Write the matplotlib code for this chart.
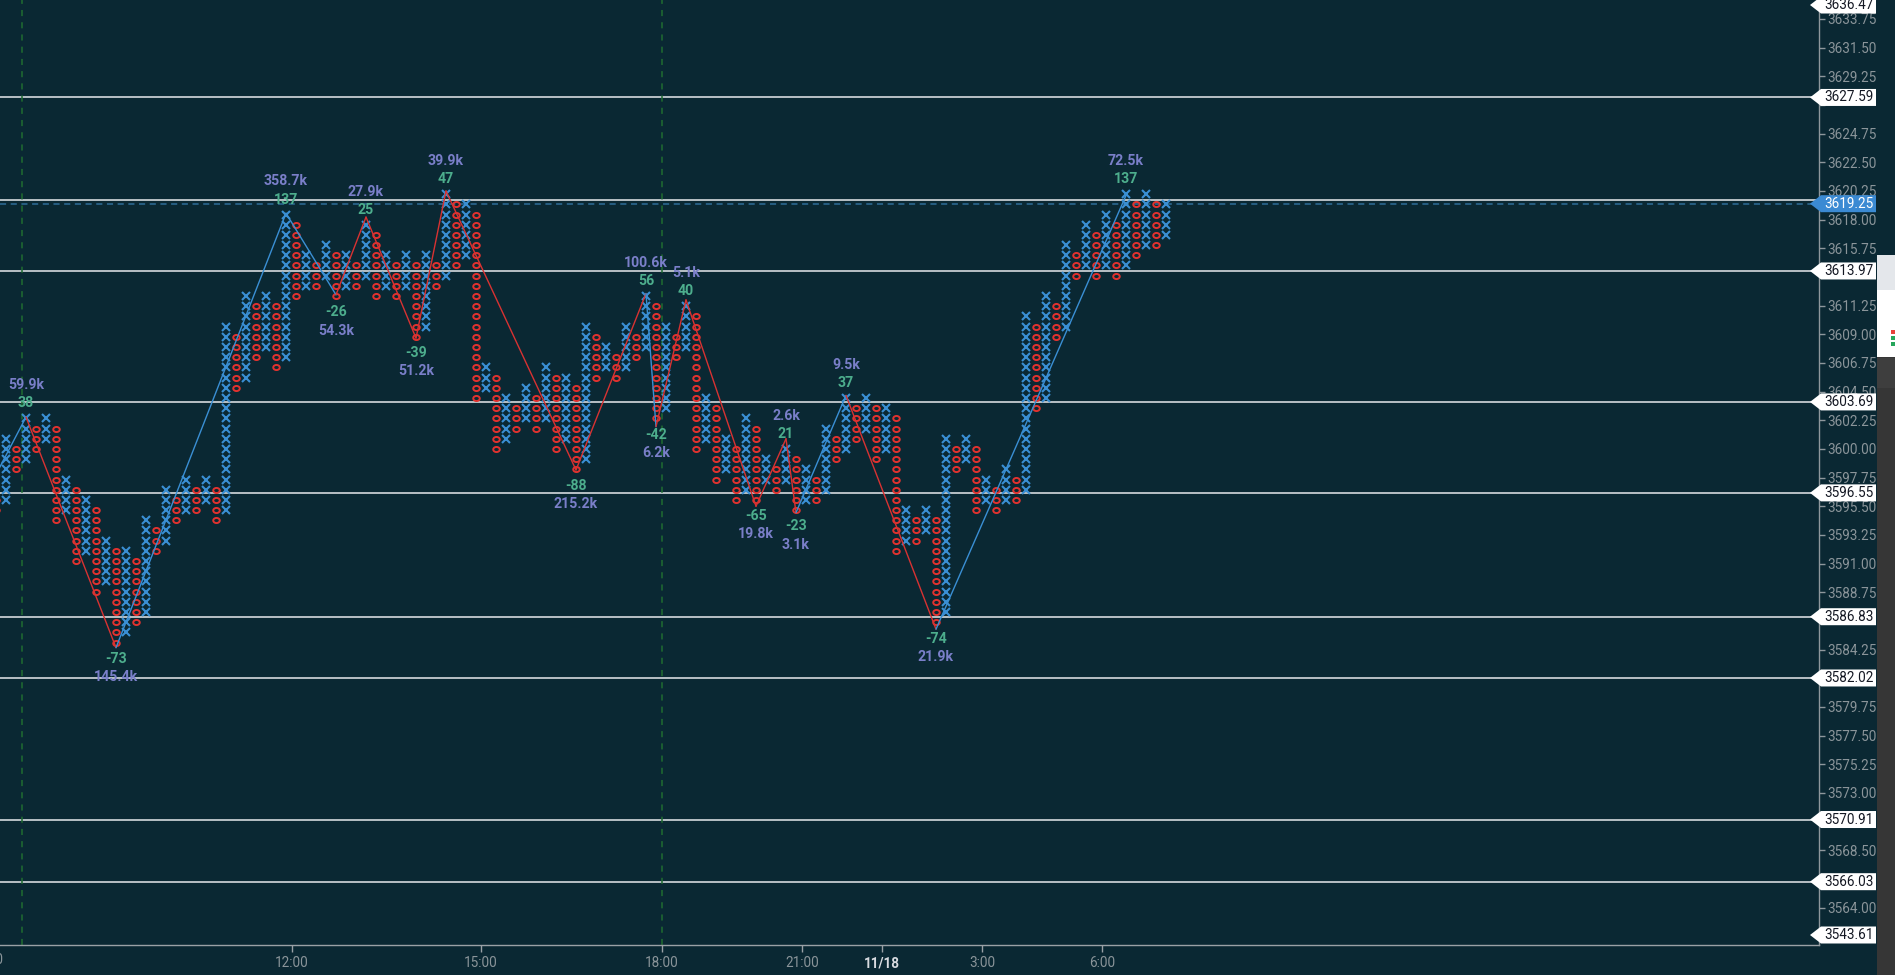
import numpy as np
import matplotlib
matplotlib.use("Agg")
import matplotlib.pyplot as plt
from matplotlib.path import Path
from matplotlib.patches import Polygon, Rectangle
from matplotlib.transforms import blended_transform_factory, Affine2D

plt.rcParams['font.family'] = ['Roboto', 'DejaVu Sans']

# ---------------- data ----------------
BOX = 0.8
col_type = list("OXOXOXOXOX" "OXOXOXOXOX" "OXOXOXOXOX" "OXOXOXOXOX"
                "OXOXOXOXOX" "OXOXOXOXOX" "OXOXOXOXOX" "OXOXOXOXOX"
                "OXOXOXOXOX" "OXOXOXOXOX" "OXOXOXOXOX" "OXOXOXOX")
col_low = [3595.2, 3596.0, 3598.4, 3599.2, 3600.0, 3600.8, 3594.4, 3595.2, 3591.2, 3592.0,
           3588.8, 3589.6, 3584.8, 3585.6, 3586.4, 3587.2, 3592.0, 3592.8, 3594.4, 3595.2,
           3595.2, 3596.0, 3594.4, 3595.2, 3604.8, 3605.6, 3607.2, 3608.0, 3606.4, 3607.2,
           3612.0, 3612.8, 3612.8, 3613.6, 3612.0, 3612.8, 3612.8, 3613.6, 3612.0, 3612.8,
           3612.0, 3612.8, 3608.8, 3609.6, 3612.8, 3613.6, 3614.4, 3615.2, 3604.0, 3604.8,
           3600.0, 3600.8, 3601.6, 3602.4, 3601.6, 3602.4, 3600.0, 3600.8, 3598.4, 3599.2,
           3605.6, 3606.4, 3605.6, 3606.4, 3607.2, 3608.0, 3602.4, 3603.2, 3607.2, 3608.0,
           3600.0, 3600.8, 3597.6, 3598.4, 3596.0, 3596.8, 3596.0, 3597.6, 3596.8, 3597.6,
           3595.2, 3596.0, 3596.0, 3596.8, 3599.2, 3600.0, 3600.8, 3601.6, 3599.2, 3600.0,
           3592.0, 3592.8, 3592.8, 3593.6, 3586.4, 3587.2, 3598.4, 3599.2, 3595.2, 3596.0,
           3595.2, 3596.0, 3596.0, 3596.8, 3603.2, 3604.0, 3608.8, 3609.6, 3613.6, 3614.4,
           3613.6, 3614.4, 3613.6, 3614.4, 3615.2, 3616.0, 3616.0, 3616.8]
col_high = [3596.0, 3600.8, 3600.0, 3602.4, 3601.6, 3602.4, 3601.6, 3597.6, 3596.8, 3596.0,
            3595.2, 3592.8, 3592.0, 3592.0, 3591.2, 3594.4, 3593.6, 3596.8, 3596.0, 3597.6,
            3596.8, 3597.6, 3596.8, 3609.6, 3608.8, 3612.0, 3611.2, 3612.0, 3611.2, 3618.4,
            3617.6, 3615.2, 3614.4, 3616.0, 3615.2, 3615.2, 3614.4, 3617.6, 3616.8, 3615.2,
            3614.4, 3615.2, 3614.4, 3615.2, 3614.4, 3620.0, 3619.2, 3619.2, 3618.4, 3606.4,
            3605.6, 3604.0, 3603.2, 3604.8, 3604.0, 3606.4, 3605.6, 3605.6, 3604.8, 3609.6,
            3608.8, 3608.0, 3607.2, 3609.6, 3608.8, 3612.0, 3611.2, 3609.6, 3608.8, 3611.2,
            3610.4, 3604.0, 3603.2, 3600.8, 3600.0, 3602.4, 3601.6, 3599.2, 3598.4, 3600.0,
            3599.2, 3598.4, 3597.6, 3601.6, 3600.8, 3604.0, 3603.2, 3604.0, 3603.2, 3603.2,
            3602.4, 3595.2, 3594.4, 3595.2, 3594.4, 3600.8, 3600.0, 3600.8, 3600.0, 3597.6,
            3596.8, 3598.4, 3597.6, 3610.4, 3609.6, 3612.0, 3611.2, 3616.0, 3615.2, 3617.6,
            3616.8, 3618.4, 3617.6, 3620.0, 3619.2, 3620.0, 3619.2, 3619.2]

pivot_col = [-2, 3, 12, 29, 34, 37, 42, 45, 58, 65, 66, 69, 76, 79, 80, 85, 94, 113]
pivot_price = [3595.0, 3602.5, 3584.4, 3618.5, 3612.1, 3618.2, 3608.7, 3620.25, 3598.35,
               3612.2, 3601.75, 3611.7, 3595.5, 3600.8, 3595.0, 3604.2, 3585.85, 3619.9]
seg_color = ['b', 'r', 'b', 'b', 'r', 'r', 'r', 'r', 'r', 'b', 'r', 'r', 'r', 'r', 'b', 'r', 'b']

label_col = [3, 12, 29, 34, 37, 42, 45, 58, 65, 66, 69, 76, 79, 80, 85, 94, 113]
label_count = ['38', '-73', '137', '-26', '25', '-39', '47', '-88', '56', '-42', '40',
               '-65', '21', '-23', '37', '-74', '137']
label_vol = ['59.9k', '145.4k', '358.7k', '54.3k', '27.9k', '51.2k', '39.9k', '215.2k',
             '100.6k', '6.2k', '5.1k', '19.8k', '2.6k', '3.1k', '9.5k', '21.9k', '72.5k']

level_prices = [3636.47, 3627.59, 3613.97, 3603.69, 3596.55, 3586.83, 3582.02,
                3570.91, 3566.03, 3543.61]
extra_level = 3619.54
last_price = 3619.25

time_tick_cols = [29.6, 48.5, 66.6, 80.6, 88.6, 98.6, 110.6]
time_tick_labels = ['12:00', '15:00', '18:00', '21:00', '11/18', '3:00', '6:00']
session_cols = [2.6, 66.6]

Y_MIN, Y_MAX = 3561.06, 3635.24
X_MIN, X_MAX = 0.4, 182.3

# ---------------- style ----------------
BG = '#0a2833'
XC = '#3a8fd4'
OC = '#e0322f'
GRID_TXT = '#8b959a'
CNT_C = '#4dae8d'
VOL_C = '#7a7fc9'
LBL_FS = 10.2

W, H = 1895, 975
fig = plt.figure(figsize=(W / 100, H / 100), dpi=100, facecolor=BG)
ax = fig.add_axes([0, (H - 945) / H, 1819 / W, 945 / H], facecolor=BG)
ax.set_xlim(X_MIN, X_MAX)
ax.set_ylim(Y_MIN, Y_MAX)
ppu = 945 / (Y_MAX - Y_MIN)

# horizontal levels
for p in level_prices:
    ax.axhline(p, color='#d5dade', lw=1.2, zorder=1)
ax.axhline(extra_level, color='#d5dade', lw=1.2, zorder=1)
ax.axhline(last_price, color='#2e6d98', lw=1.1, ls=(0, (4, 3)), zorder=1)

# session lines
for c in session_cols:
    ax.axvline(c, color='#1f6c31', lw=1.1, ls=(0, (4, 4)), zorder=1)

# P&F boxes
xs_x, ys_x, xs_o, ys_o = [], [], [], []
for i, (t, lo, hi) in enumerate(zip(col_type, col_low, col_high)):
    n = int(round((hi - lo) / BOX)) + 1
    ys = lo + BOX * np.arange(n)
    if t == 'X':
        xs_x += [i] * n
        ys_x += list(ys)
    else:
        xs_o += [i] * n
        ys_o += list(ys)

ellipse = Path.unit_circle().transformed(Affine2D().scale(1.0, 0.78))
ax.plot(xs_x, ys_x, ls='none', marker='x', ms=5.4, mew=1.5, color=XC, zorder=3)
ax.plot(xs_o, ys_o, ls='none', marker=ellipse, ms=4.7, mew=1.4, mfc='none',
        mec=OC, zorder=3)

# pivot lines
cmap = {'b': '#3a8fd4', 'r': '#d83232'}
for k in range(len(seg_color)):
    ax.plot(pivot_col[k:k + 2], pivot_price[k:k + 2], color=cmap[seg_color[k]],
            lw=1.0, zorder=4, solid_capstyle='round')

# pivot labels
for c, cnt, vol in zip(label_col, label_count, label_vol):
    if cnt.startswith('-'):
        y = col_low[c]
        offs = (-11.8, -24.8)
    else:
        y = col_high[c]
        offs = (10.8, 23.8)
    ax.annotate(cnt, (c, y), xytext=(0, offs[0]), textcoords='offset points',
                ha='center', va='center', color=CNT_C, fontsize=LBL_FS,
                fontweight='bold', zorder=5)
    ax.annotate(vol, (c, y), xytext=(0, offs[1]), textcoords='offset points',
                ha='center', va='center', color=VOL_C, fontsize=LBL_FS,
                fontweight='bold', zorder=5)

# axes styling
for s in ['top', 'left']:
    ax.spines[s].set_visible(False)
ax.spines['right'].set_color('#8e979c')
ax.spines['bottom'].set_color('#9aa1a6')
ax.spines['right'].set_linewidth(1.0)
ax.spines['bottom'].set_linewidth(1.0)
ax.yaxis.tick_right()
yt = np.arange(3564.0, 3634.0, 2.25)
tag_centers = [min(max(p, Y_MIN + 10 / ppu), Y_MAX - 5 / ppu) for p in level_prices] + [last_price]
ylabels = []
for v in yt:
    covered = any(abs(v - tc) * ppu < 9.0 for tc in tag_centers)
    ylabels.append('' if covered else f'{v:.2f}')
ax.set_yticks(yt)
ax.set_yticklabels(ylabels)
ax.tick_params(axis='y', direction='out', length=4, width=1, color='#8e979c',
               labelsize=9.75, labelcolor=GRID_TXT, pad=2)
ax.set_xticks(time_tick_cols)
ax.set_xticklabels(time_tick_labels)
ax.tick_params(axis='x', direction='out', length=5, width=1, color='#9aa1a6',
               labelsize=9.75, labelcolor=GRID_TXT, pad=3)
for lab in ax.get_xticklabels():
    if lab.get_text() == '11/18':
        lab.set_color('#d8dbe0')
        lab.set_fontweight('bold')
# partially visible left time label (cut by the figure edge as in the reference)
ax.text(-0.55, Y_MIN - 8 / ppu, '9:00', transform=ax.transData, ha='center', va='top',
        color=GRID_TXT, fontsize=9.75, clip_on=False)

# price tags
tr = blended_transform_factory(fig.transFigure, ax.transData)
def tag(text, fc, tc, yc):
    hh = 8.5 / ppu
    verts = [(1810 / W, yc), (1821 / W, yc + hh), (1876 / W, yc + hh),
             (1876 / W, yc - hh), (1821 / W, yc - hh)]
    ax.add_patch(Polygon(verts, closed=True, transform=tr, facecolor=fc,
                         edgecolor='none', clip_on=False, zorder=20))
    ax.text(1849 / W, yc, text, transform=tr, ha='center', va='center',
            color=tc, fontsize=9.75, clip_on=False, zorder=21)

for p, shown in zip(level_prices, tag_centers):
    tag(f'{p:.2f}', '#ffffff', '#131722', shown)
tag(f'{last_price:.2f}', '#3b8ad3', '#ffffff', last_price)

# right-hand UI strip
def frect(x0, y0, x1, y1, color):
    fig.patches.append(Rectangle((x0 / W, 1 - y1 / H), (x1 - x0) / W, (y1 - y0) / H,
                                 transform=fig.transFigure, facecolor=color,
                                 edgecolor='none', zorder=0))
frect(1877, 255, 1895, 290, '#e4e7eb')
frect(1877, 290, 1895, 357, '#ffffff')
frect(1877, 357, 1895, 975, '#363636')
frect(1877, 358, 1895, 388, '#3e3e3e')
frect(1891, 330, 1895, 334, '#e8413b')
frect(1891, 336, 1895, 340, '#26a65b')
frect(1891, 342, 1895, 346, '#26a65b')

fig.savefig('out.png', dpi=100, facecolor=BG)
